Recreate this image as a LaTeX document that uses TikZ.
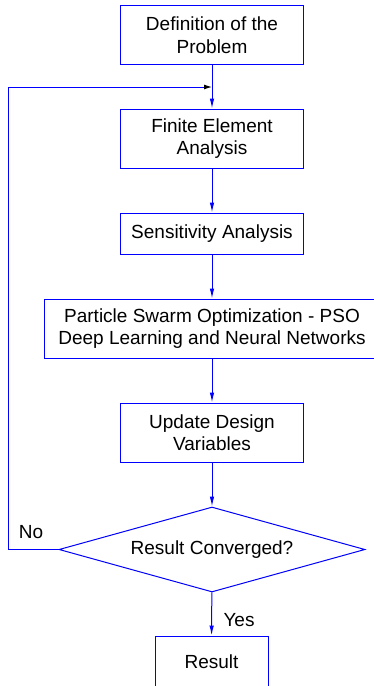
\documentclass[tikz,border=0pt]{standalone}
\usepackage{fontspec}
\setmainfont{Liberation Sans}
\usetikzlibrary{shapes.geometric,arrows.meta}

\begin{document}
\begin{tikzpicture}
  [x=1pt,y=-1pt,auto=center,line width=1pt,
   every node/.style={font=\fontsize{19}{22.5}\selectfont,align=center,inner sep=0pt},
   procbox/.style={rectangle,draw=blue,minimum width=183pt,minimum height=59pt},
   decbox/.style={diamond,aspect=3.6,draw=blue,minimum width=306pt,minimum height=85pt},
   flow/.style={blue,-{Latex[length=10pt,width=4.5pt]}}]
  \useasboundingbox (0,0) rectangle (374,686);
  \node[procbox] (a1) at (212,35) {Definition of the\\Problem};
  \node[procbox] (a2) at (212,138.5) {Finite Element\\Analysis};
  \node[procbox,minimum height=41pt] (a3) at (212,233.5) {Sensitivity Analysis};
  \node[procbox,minimum width=336pt] (a4) at (212,328.5) {Particle Swarm Optimization - PSO\\Deep Learning and Neural Networks};
  \node[procbox] (a5) at (212,432.5) {Update Design\\Variables};
  \node[decbox] (a6) at (212,549.5) {Result Converged?};
  \node[procbox,minimum width=113pt,minimum height=52pt] (a7) at (211.5,662) {Result};
  \node (l1) at (31,532) {No};
  \node (l2) at (239,620) {Yes};
  \coordinate (j) at (212,87);
  \coordinate (c1) at (8,87);

  \draw [flow](a1) -- (a2);
  \draw [flow](a2) -- (a3);
  \draw [flow](a3) -- (a4);
  \draw [flow](a4) -- (a5);
  \draw [flow](a5) -- (a6);
  \draw [flow](a6) -- (a7);
  \draw [blue,-{Latex[color=black,length=8pt,width=5pt]}](a6.west) -| (c1) -- (j);
\end{tikzpicture}
\end{document}
